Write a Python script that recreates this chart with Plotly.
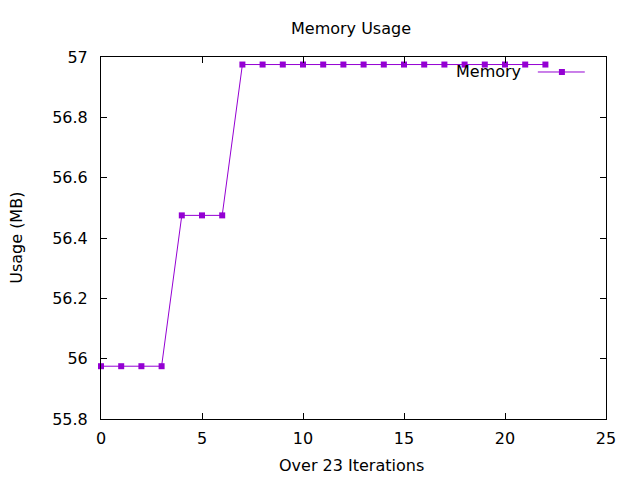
import plotly.graph_objects as go

iterations = list(range(23))
memory_mb = [55.975, 55.975, 55.975, 55.975,
             56.475, 56.475, 56.475,
             56.975, 56.975, 56.975, 56.975, 56.975, 56.975, 56.975, 56.975,
             56.975, 56.975, 56.975, 56.975, 56.975, 56.975, 56.975, 56.975]
series_name = "Memory"
color = "#9400D3"
font = "DejaVu Sans"
fs = 16

fig = go.Figure()
fig.add_trace(go.Scatter(
    x=iterations, y=memory_mb, mode="lines+markers", name=series_name,
    line=dict(color=color, width=1),
    marker=dict(symbol="square", size=6, color=color),
    showlegend=False, cliponaxis=False,
))
# legend sample (gnuplot style: text left of sample)
fig.add_trace(go.Scatter(
    x=[0.865, 0.958], y=[0.9586, 0.9586], xaxis="x2", yaxis="y2",
    mode="lines", line=dict(color=color, width=1), showlegend=False, hoverinfo="skip",
))
fig.add_trace(go.Scatter(
    x=[0.9127], y=[0.9586], xaxis="x2", yaxis="y2",
    mode="markers", marker=dict(symbol="square", size=6, color=color),
    showlegend=False, hoverinfo="skip",
))

axis_common = dict(
    showgrid=False, zeroline=False, showline=True, linecolor="black", linewidth=1,
    mirror="ticks", ticks="inside", ticklen=6, tickcolor="black", automargin=False,
    tickfont=dict(family=font, size=fs, color="black"),
)
fig.update_layout(
    width=640, height=480,
    margin=dict(l=101, r=34, t=57, b=61, autoexpand=False),
    paper_bgcolor="white", plot_bgcolor="white",
    xaxis=dict(range=[0, 25], tick0=0, dtick=5, ticklabelstandoff=5, **axis_common),
    yaxis=dict(range=[55.8, 57], tick0=55.8, dtick=0.2, ticklabelstandoff=9, **axis_common),
    xaxis2=dict(domain=[0, 1], range=[0, 1], overlaying="x", visible=False, anchor="y2"),
    yaxis2=dict(domain=[0, 1], range=[0, 1], overlaying="y", visible=False, anchor="x2"),
    annotations=[
        dict(text=series_name, xref="paper", yref="paper", x=0.835, y=0.9586,
             xanchor="right", yanchor="middle", showarrow=False,
             font=dict(family=font, size=fs, color="black")),
        dict(text="Memory Usage", xref="paper", yref="paper", x=0.496, y=1.080,
             xanchor="center", yanchor="middle", showarrow=False,
             font=dict(family=font, size=fs, color="black")),
        dict(text="Over 23 Iterations", xref="paper", yref="paper", x=0.496, y=-0.1298,
             xanchor="center", yanchor="middle", showarrow=False,
             font=dict(family=font, size=fs, color="black")),
        dict(text="Usage (MB)", xref="paper", yref="paper", x=-0.1687, y=0.5,
             xanchor="center", yanchor="middle", showarrow=False, textangle=-90,
             font=dict(family=font, size=fs, color="black")),
    ],
)
fig.write_html("out.html", config={"displayModeBar": False},
               post_script="document.body.style.margin='0';document.body.style.padding='0';")
